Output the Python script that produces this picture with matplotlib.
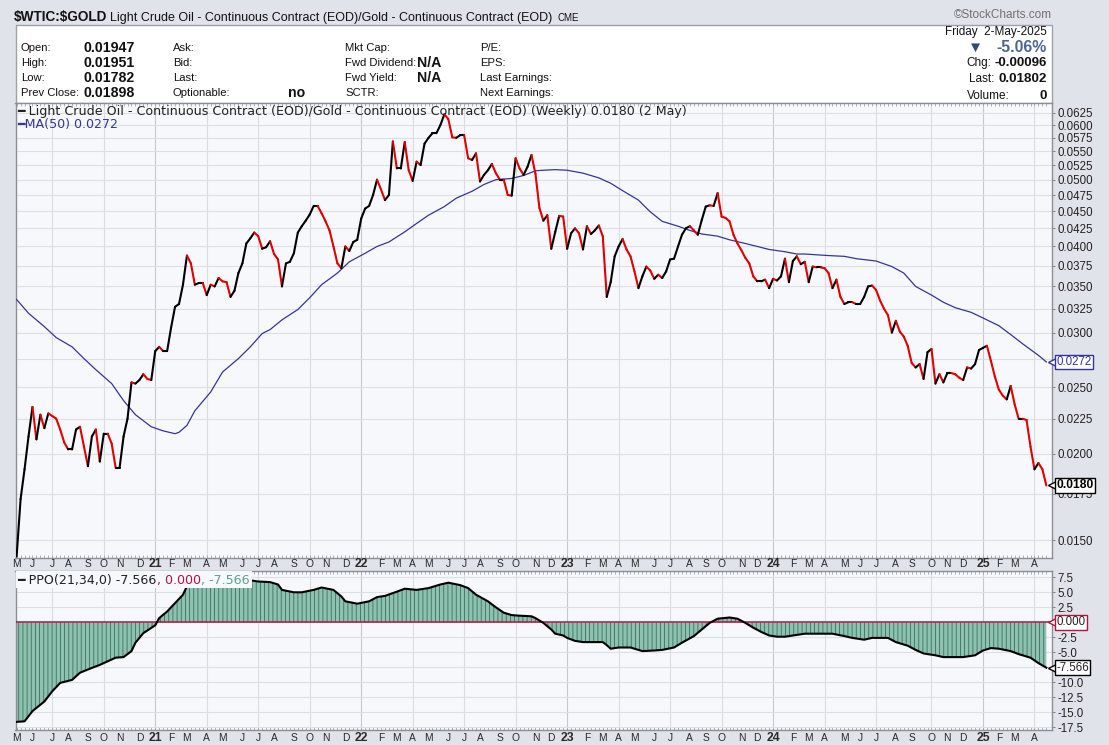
import numpy as np
import pandas as pd
import matplotlib
matplotlib.use('Agg')
import matplotlib.pyplot as plt
import matplotlib.dates as mdates
from matplotlib.collections import LineCollection
from matplotlib.patches import Rectangle
from matplotlib.ticker import NullLocator
from matplotlib import font_manager

W, H = 1109, 745

# weekly closes of $WTIC:$GOLD, one bar per week from first_week on
first_week = '2020-05-08'
ratio = [
    0.0142, 0.0172, 0.0190, 0.0212, 0.0234, 0.0210, 0.0228, 0.0218, 0.0229, 0.0227,
    0.0225, 0.0217, 0.0208, 0.0203, 0.0203, 0.0217, 0.0219, 0.0205, 0.0192, 0.0212,
    0.0217, 0.0195, 0.0214, 0.0214, 0.0207, 0.0191, 0.0191, 0.0212, 0.0225, 0.0254,
    0.0253, 0.0256, 0.0261, 0.0257, 0.0256, 0.0282, 0.0286, 0.0282, 0.0282, 0.0305,
    0.0327, 0.0330, 0.0352, 0.0388, 0.0378, 0.0352, 0.0354, 0.0354, 0.0340, 0.0352,
    0.0350, 0.0360, 0.0356, 0.0355, 0.0338, 0.0345, 0.0366, 0.0378, 0.0404, 0.0411,
    0.0419, 0.0414, 0.0397, 0.0399, 0.0407, 0.0390, 0.0383, 0.0350, 0.0378, 0.0380,
    0.0391, 0.0419, 0.0428, 0.0436, 0.0445, 0.0458, 0.0458, 0.0447, 0.0435, 0.0422,
    0.0400, 0.0378, 0.0372, 0.0400, 0.0394, 0.0406, 0.0409, 0.0439, 0.0454, 0.0458,
    0.0475, 0.0500, 0.0484, 0.0467, 0.0475, 0.0568, 0.0519, 0.0519, 0.0567, 0.0516,
    0.0498, 0.0531, 0.0525, 0.0564, 0.0575, 0.0584, 0.0584, 0.0600, 0.0622, 0.0612,
    0.0576, 0.0575, 0.0580, 0.0580, 0.0537, 0.0534, 0.0546, 0.0497, 0.0508, 0.0516,
    0.0527, 0.0511, 0.0500, 0.0500, 0.0475, 0.0474, 0.0537, 0.0519, 0.0508, 0.0522,
    0.0543, 0.0510, 0.0455, 0.0436, 0.0444, 0.0397, 0.0420, 0.0443, 0.0442, 0.0397,
    0.0418, 0.0425, 0.0418, 0.0396, 0.0428, 0.0417, 0.0422, 0.0429, 0.0414, 0.0338,
    0.0355, 0.0387, 0.0400, 0.0410, 0.0396, 0.0387, 0.0368, 0.0348, 0.0362, 0.0374,
    0.0369, 0.0359, 0.0364, 0.0360, 0.0368, 0.0383, 0.0384, 0.0400, 0.0416, 0.0425,
    0.0428, 0.0422, 0.0416, 0.0437, 0.0457, 0.0459, 0.0458, 0.0478, 0.0442, 0.0440,
    0.0435, 0.0416, 0.0404, 0.0395, 0.0385, 0.0378, 0.0362, 0.0356, 0.0356, 0.0358,
    0.0348, 0.0359, 0.0357, 0.0362, 0.0384, 0.0355, 0.0381, 0.0387, 0.0377, 0.0380,
    0.0355, 0.0374, 0.0373, 0.0373, 0.0372, 0.0366, 0.0348, 0.0358, 0.0338, 0.0330,
    0.0332, 0.0332, 0.0330, 0.0330, 0.0338, 0.0350, 0.0351, 0.0346, 0.0334, 0.0325,
    0.0318, 0.0300, 0.0312, 0.0301, 0.0296, 0.0287, 0.0271, 0.0267, 0.0270, 0.0257,
    0.0281, 0.0284, 0.0253, 0.0261, 0.0254, 0.0262, 0.0262, 0.0261, 0.0258, 0.0256,
    0.0267, 0.0266, 0.0270, 0.0283, 0.0285, 0.0287, 0.0273, 0.0259, 0.0248, 0.0243,
    0.0240, 0.0251, 0.0236, 0.0225, 0.0225, 0.0224, 0.0205, 0.0190, 0.0194, 0.0190,
    0.0180,
]

# 50 week moving average, read at some of the weeks (index into the weekly bars)
ma_idx = [0, 3, 7, 10, 14, 17, 20, 24, 27, 30, 34, 37, 40, 41, 43, 45, 49, 52, 56, 59,
          62, 64, 67, 71, 74, 77, 81, 84, 88, 91, 94, 98, 101, 104, 108, 111, 115, 118, 121, 125,
          128, 131, 133, 136, 139, 143, 147, 150, 153, 157, 160, 163, 167, 170, 173, 177, 180, 184, 187, 190,
          194, 197, 199, 202, 205, 209, 212, 217, 221, 224, 227, 231, 234, 237, 241, 244, 248, 251, 254, 258,
          260]
ma_vals = [0.0335, 0.0320, 0.0306, 0.0295, 0.0286, 0.0275, 0.0265, 0.0253, 0.0239, 0.0228,
           0.0219, 0.0216, 0.0214, 0.0215, 0.0220, 0.0231, 0.0246, 0.0263, 0.0275, 0.0286,
           0.0299, 0.0303, 0.0313, 0.0324, 0.0337, 0.0352, 0.0366, 0.0380, 0.0391, 0.0400,
           0.0406, 0.0420, 0.0432, 0.0444, 0.0457, 0.0470, 0.0481, 0.0492, 0.0500, 0.0502,
           0.0507, 0.0515, 0.0516, 0.0517, 0.0516, 0.0511, 0.0503, 0.0494, 0.0482, 0.0467,
           0.0449, 0.0435, 0.0428, 0.0422, 0.0417, 0.0414, 0.0409, 0.0404, 0.0400, 0.0396,
           0.0393, 0.0390, 0.0390, 0.0389, 0.0388, 0.0387, 0.0384, 0.0381, 0.0374, 0.0366,
           0.0350, 0.0340, 0.0332, 0.0326, 0.0321, 0.0315, 0.0307, 0.0298, 0.0289, 0.0278,
           0.0272]

# PPO(21,34,0), read at some of the weeks
ppo_idx = [0, 2, 4, 7, 9, 11, 14, 16, 19, 21, 24, 25, 27, 29, 30, 32, 35, 36, 38, 40,
           42, 43, 46, 50, 55, 59, 61, 64, 66, 67, 70, 72, 75, 77, 80, 82, 83, 86, 89, 91,
           93, 96, 98, 101, 104, 107, 109, 112, 114, 116, 119, 121, 123, 125, 127, 130, 131, 133, 135, 136,
           138, 139, 141, 143, 146, 148, 149, 150, 152, 155, 157, 158, 161, 163, 166, 168, 171, 173, 175, 177,
           180, 182, 184, 186, 188, 190, 192, 194, 196, 199, 201, 204, 206, 209, 211, 214, 216, 220, 222, 225,
           227, 229, 232, 234, 237, 239, 242, 244, 246, 248, 251, 253, 256, 258, 260]
ppo_vals = [-16.6, -16.5, -14.8, -13.2, -11.5, -10.1, -9.6, -8.4, -7.6, -7.1, -6.2, -5.9, -5.8, -4.8, -3.4, -1.8, -0.5, 0.7, 1.8, 3.2,
            4.6, 6.0, 6.6, 6.9, 7.0, 7.0, 6.8, 6.7, 6.3, 5.4, 5.0, 5.0, 5.4, 5.8, 5.4, 4.3, 3.5, 3.1, 3.5, 4.2,
            4.4, 5.1, 5.6, 5.4, 5.7, 6.3, 6.6, 6.2, 5.7, 4.6, 3.5, 2.5, 1.6, 1.2, 1.1, 1.0, 0.7, -0.1, -1.2, -1.9,
            -2.2, -2.6, -3.1, -3.3, -3.3, -3.3, -3.8, -4.4, -4.2, -4.2, -4.6, -4.8, -4.7, -4.6, -4.2, -3.4, -2.3, -1.2, -0.1, 0.6,
            0.8, 0.6, -0.1, -0.9, -1.6, -2.2, -2.4, -2.4, -2.2, -1.9, -1.9, -1.9, -1.9, -2.3, -2.6, -2.9, -2.6, -2.6, -3.3, -3.9,
            -4.6, -5.2, -5.5, -5.8, -5.8, -5.8, -5.5, -4.7, -4.3, -4.4, -4.8, -5.3, -5.9, -6.8, -7.566]
ppo_signal = 0.0

price_ticks = [0.0150, 0.0175, 0.0200, 0.0225, 0.0250, 0.0275, 0.0300, 0.0325, 0.0350, 0.0375,
               0.0400, 0.0425, 0.0450, 0.0475, 0.0500, 0.0525, 0.0550, 0.0575, 0.0600, 0.0625]
ppo_ticks = [7.5, 5.0, 2.5, 0.0, -2.5, -5.0, -7.5, -10.0, -12.5, -15.0, -17.5]

symbol = r'\$WTIC:\$GOLD'
title = 'Light Crude Oil - Continuous Contract (EOD)/Gold - Continuous Contract (EOD)'
exchange = 'CME'
quote_day = 'Friday  2-May-2025'
pct_chg = '-5.06%'
chg = '-0.00096'
last = '0.01802'
volume = '0'
col1 = [('Open:', '0.01947'), ('High:', '0.01951'), ('Low:', '0.01782'), ('Prev Close:', '0.01898')]
col2 = [('Ask:', ''), ('Bid:', ''), ('Last:', ''), ('Optionable:', 'no')]
col3 = [('Mkt Cap:', ''), ('Fwd Dividend:', 'N/A'), ('Fwd Yield:', 'N/A'), ('SCTR:', '')]
col4 = ['P/E:', 'EPS:', 'Last Earnings:', 'Next Earnings:']

SANS = ['Liberation Sans', 'DejaVu Sans']
VER = ['DejaVu Sans']
installed = {f.name for f in font_manager.fontManager.ttflist}
if 'Liberation Sans Narrow' in installed:
    SYM_FONT, SYM_SIZE = ['Liberation Sans Narrow', 'Liberation Sans'], 11.5
else:
    SYM_FONT, SYM_SIZE = SANS, 9.8
RED = '#e00000'
BLUE = '#34349c'
CRIMSON = '#b3123f'
TEAL = '#5f9f8c'
PANEL = '#f7f8fb'
LEG = 9.1   # legend font size inside the panels
TICK = 8.3

plt.rcParams['hatch.linewidth'] = 0.6

weeks = pd.date_range(first_week, periods=len(ratio), freq='7D')
ma_dates = weeks[ma_idx]
ppo_dates = weeks[ppo_idx]

# month marks: first weekly bar whose week starts in a new month
month_ticks = []
seen = set()
for d in weeks:
    wk = d - pd.Timedelta(days=4)
    if (wk.year, wk.month) not in seen:
        seen.add((wk.year, wk.month))
        month_ticks.append((d, wk.year, wk.month))

fig = plt.figure(figsize=(W / 100, H / 100), dpi=100, facecolor='#e0e3e9')


def fx(x):
    return x / W


def fy(y):
    return 1 - y / H


fig.add_artist(Rectangle((fx(16), fy(103.3)), fx(1052) - fx(16), fy(25) - fy(103.3),
                         transform=fig.transFigure, fc='white', ec='#9da1a9', lw=1, zorder=0))

ax = fig.add_axes([fx(15.5), fy(557.5), fx(1052) - fx(15.5), fy(103.3) - fy(557.5)])
ax2 = fig.add_axes([fx(15.5), fy(730.3), fx(1052) - fx(15.5), fy(571.3) - fy(730.3)])

xlim = (weeks[0] - pd.Timedelta(days=2), weeks[-1] + pd.Timedelta(days=10))
for a in (ax, ax2):
    a.set_facecolor(PANEL)
    for s in a.spines.values():
        s.set_color('#8a8e96')
        s.set_linewidth(1)
    a.set_xlim(xlim)
    a.yaxis.tick_right()
    a.set_xticks([])
    a.set_xticks(weeks, minor=True)
    a.tick_params(axis='x', which='minor', length=2, width=0.6, color='#a0a4ac',
                  direction='in', top=True, bottom=True, labelbottom=False)
    a.tick_params(axis='y', which='major', length=2.5, width=0.7, color='#80848c',
                  labelsize=TICK, labelcolor='#222222', pad=1.2)
    a.grid(axis='y', color='#dcdfe6', lw=0.8)
    a.set_axisbelow(True)
    for d, yr, m in month_ticks:
        if m in (1, 4, 7, 10):
            a.axvline(d, color='#c4c8d0' if m == 1 else '#d9dce3', lw=0.8, zorder=0.5)

# month letters above and below the PPO panel
for d, yr, m in month_ticks:
    if m == 1:
        lab, fw, fs = f'{yr % 100:02d}', 'bold', 8.8
    else:
        lab, fw, fs = 'JFMAMJJASOND'[m - 1], 'normal', 7.4
    for yy, off in ((1.0, 5.0), (0.0, -5.2)):
        ax2.annotate(lab, xy=(mdates.date2num(d), yy), xycoords=ax2.get_xaxis_transform(),
                     xytext=(0, off), textcoords='offset points', ha='center', va='center',
                     fontsize=fs, fontweight=fw, family=SANS, color='#2a2a2a',
                     annotation_clip=False)

# ---- price panel
ax.set_yscale('log')
ax.set_ylim(0.01415, 0.06453)
ax.yaxis.set_minor_locator(NullLocator())
ax.set_yticks(price_ticks)
ax.set_yticklabels(['' if abs(t / ma_vals[-1] - 1) < 0.02 else f'{t:.4f}' for t in price_ticks],
                   family=SANS)

xn = mdates.date2num(weeks)
pts = np.column_stack([xn, ratio])
segs = np.stack([pts[:-1], pts[1:]], axis=1)
cols = ['black' if b >= a else RED for a, b in zip(ratio[:-1], ratio[1:])]
ax.add_collection(LineCollection(segs, colors=cols, linewidths=1.5, capstyle='round',
                                 joinstyle='round', zorder=4))
ax.plot(ma_dates, ma_vals, color=BLUE, lw=0.9, zorder=3)

ax.text(0.002, 0.9815, '\u2501 ' + title + f' (Weekly) {ratio[-1]:.4f} (2 May)',
        transform=ax.transAxes, family=VER, fontsize=LEG, va='center', color='#222222')
ax.text(0.002, 0.9544, '\u2501' + f'MA(50) {ma_vals[-1]:.4f}', transform=ax.transAxes,
        family=VER, fontsize=LEG, va='center', color=BLUE)

ytr = ax.get_yaxis_transform()
ax.plot([1.0], [ma_vals[-1]], marker='<', ms=6, mfc='white', mec=BLUE, mew=1,
        transform=ytr, clip_on=False, zorder=9)
ax.annotate(f'{ma_vals[-1]:.4f}', xy=(1.0, ma_vals[-1]), xycoords=ytr, xytext=(3, 0),
            textcoords='offset points', ha='left', va='center', fontsize=TICK, family=SANS,
            color=BLUE, zorder=10,
            bbox=dict(boxstyle='square,pad=0.12', fc='white', ec=BLUE, lw=1))
ax.plot([1.0], [ratio[-1]], marker='<', ms=6, mfc='white', mec='black', mew=1,
        transform=ytr, clip_on=False, zorder=9)
ax.annotate(f'{ratio[-1]:.4f}', xy=(1.0, ratio[-1]), xycoords=ytr, xytext=(3, 0),
            textcoords='offset points', ha='left', va='center', fontsize=8.7, family=SANS,
            fontweight='bold', color='black', zorder=10,
            bbox=dict(boxstyle='square,pad=0.12', fc='white', ec='black', lw=1))

# ---- PPO panel
ax2.set_ylim(-18.0, 8.5)
ax2.set_yticks(ppo_ticks)
ax2.set_yticklabels(['' if min(abs(t - ppo_signal), abs(t - ppo_vals[-1])) < 0.6 else f'{t:.1f}'
                     for t in ppo_ticks], family=SANS)
ax2.fill_between(ppo_dates, ppo_vals, 0, facecolor='#8dc2b0', edgecolor='#3f6d60',
                 hatch='||||', linewidth=0, zorder=2)
ax2.axhline(ppo_signal, color=CRIMSON, lw=1.1, zorder=3)
ax2.plot(ppo_dates, ppo_vals, color='black', lw=1.5, zorder=4)

ytr2 = ax2.get_yaxis_transform()
ax2.plot([1.0], [ppo_signal], marker='<', ms=6, mfc='white', mec=CRIMSON, mew=1,
         transform=ytr2, clip_on=False, zorder=9)
ax2.annotate(f'{ppo_signal:.3f}', xy=(1.0, ppo_signal), xycoords=ytr2, xytext=(3, 0),
             textcoords='offset points', ha='left', va='center', fontsize=TICK, family=SANS,
             color='#222222', zorder=10,
             bbox=dict(boxstyle='square,pad=0.12', fc='white', ec=CRIMSON, lw=1))
ax2.plot([1.0], [ppo_vals[-1]], marker='<', ms=6, mfc='white', mec='black', mew=1,
         transform=ytr2, clip_on=False, zorder=9)
ax2.annotate(f'{ppo_vals[-1]:.3f}', xy=(1.0, ppo_vals[-1]), xycoords=ytr2, xytext=(3, 0),
             textcoords='offset points', ha='left', va='center', fontsize=TICK, family=SANS,
             color='#222222', zorder=10,
             bbox=dict(boxstyle='square,pad=0.12', fc='white', ec='black', lw=1))

# PPO legend: three coloured pieces on one plain backing strip
r = fig.canvas.get_renderer()
pieces = [ax2.text(0.002, 0.943, '\u2501 ' + f'PPO(21,34,0) {ppo_vals[-1]:.3f}',
                   transform=ax2.transAxes, family=VER, fontsize=LEG, va='center',
                   color='#222222', zorder=6)]
for s, c in ((f', {ppo_signal:.3f}', CRIMSON), (f', {ppo_vals[-1]:.3f}', TEAL)):
    pieces.append(ax2.annotate(s, xy=(1, 0.5), xycoords=pieces[-1], va='center', ha='left',
                               family=VER, fontsize=LEG, color=c, zorder=6))
ext = [p.get_window_extent(renderer=r) for p in pieces]
lx0, lx1 = ext[0].x0 - 2, max(e.x1 for e in ext) + 2
ly0 = min(e.y0 for e in ext) - 1
ly1 = ax2.get_window_extent(renderer=r).y1
inv = fig.transFigure.inverted()
(bx0, by0), (bx1, by1) = inv.transform([(lx0, ly0), (lx1, ly1)])
ax2.add_patch(Rectangle((bx0, by0), bx1 - bx0, by1 - by0, transform=fig.transFigure,
                        fc=PANEL, ec='none', zorder=5, clip_on=False))


# ---- header
def put(x, y, s, **kw):
    kw.setdefault('family', SANS)
    kw.setdefault('color', '#111111')
    kw.setdefault('va', 'center')
    return fig.text(fx(x), fy(y), s, **kw)


def x1(t):
    return t.get_window_extent(renderer=r).x1


def x0(t):
    return t.get_window_extent(renderer=r).x0


t = put(13.6, 21, symbol, fontsize=SYM_SIZE, fontweight='bold', va='baseline', family=SYM_FONT)
t = put(x1(t) + 3, 21, title, fontsize=9, va='baseline')
put(x1(t) + 5, 21, exchange, fontsize=7, va='baseline')
put(1052, 15.5, '\u00a9StockCharts.com', fontsize=8.5, ha='right', color='#707070')

rows_y = [48, 63, 78, 93]
for (lab, val), y in zip(col1, rows_y):
    put(20.7, y, lab, fontsize=8.1)
    put(135, y, val, fontsize=10.2, fontweight='bold', ha='right')
for (lab, val), y in zip(col2, rows_y):
    put(172.7, y, lab, fontsize=8.1)
    if val:
        put(288.3, y, val, fontsize=10.2, fontweight='bold')
for (lab, val), y in zip(col3, rows_y):
    put(345, y, lab, fontsize=8.1)
    if val:
        put(416.7, y, val, fontsize=10.2, fontweight='bold')
for lab, y in zip(col4, rows_y):
    put(480, y, lab, fontsize=8.1)

put(1047, 31.7, quote_day, fontsize=8.5, ha='right')
t = put(1047, 47.3, pct_chg, fontsize=11.4, fontweight='bold', ha='right', color='#4a6596')
put(x0(t) - 14, 47.3, '\u25bc', fontsize=11, ha='right', color='#2f4c78')
t = put(1047, 62.7, chg, fontsize=9.5, fontweight='bold', ha='right')
put(x0(t) - 3, 62.7, 'Chg:', fontsize=8.5, ha='right')
t = put(1047, 79.3, last, fontsize=9.7, fontweight='bold', ha='right')
put(x0(t) - 4, 79.3, 'Last:', fontsize=8.5, ha='right')
put(1047, 96, volume, fontsize=9.7, fontweight='bold', ha='right')
put(966.7, 96, 'Volume:', fontsize=8.5)

fig.savefig('out.png', dpi=100, facecolor=fig.get_facecolor())
